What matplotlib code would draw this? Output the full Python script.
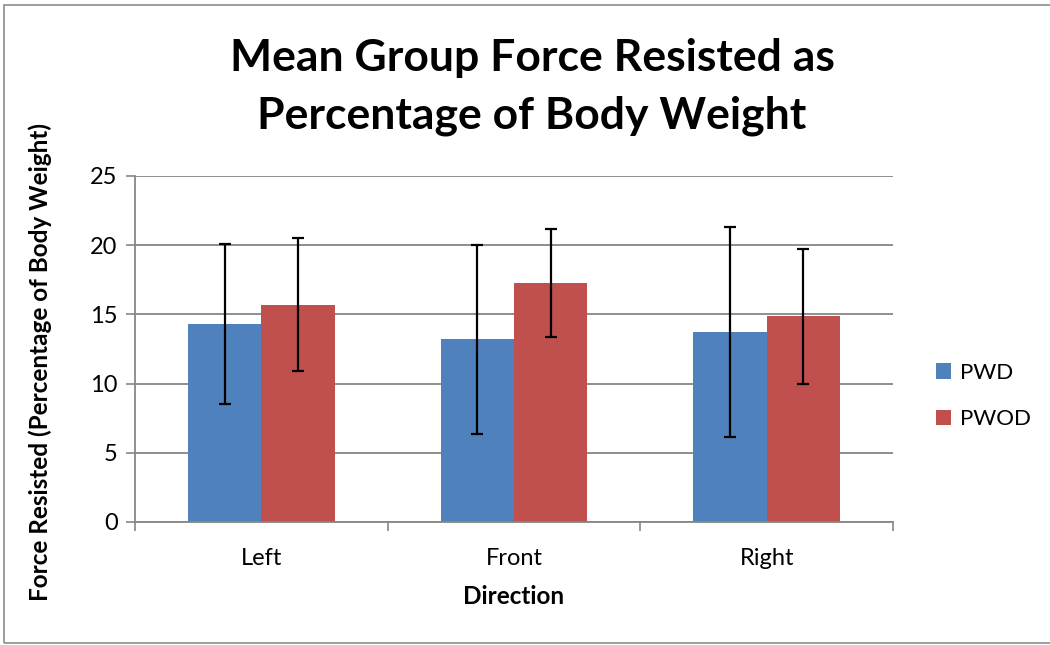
import matplotlib
matplotlib.use("Agg")
import matplotlib.pyplot as plt
import numpy as np
from matplotlib.patches import Rectangle

categories = ["Left", "Front", "Right"]
series_names = ["PWD", "PWOD"]
pwd_mean = [14.3, 13.2, 13.75]
pwd_err = [5.8, 6.82, 7.6]
pwod_mean = [15.7, 17.26, 14.85]
pwod_err = [4.82, 3.89, 4.87]
y_ticks = [0, 5, 10, 15, 20, 25]

blue = "#4F81BD"
red = "#C0504D"
grid_c = "#868686"
font = "Lato"

fig = plt.figure(figsize=(10.5, 6.45), dpi=100)
ax = fig.add_axes([135/1050, 1-522/645, (893-135)/1050, (522-176)/645])

x = np.arange(len(categories))
w = 0.29
ekw = dict(ecolor="black", elinewidth=1.6, capsize=4.5, capthick=1.6)
ax.bar(x - w/2, pwd_mean, w, color=blue, label=series_names[0], zorder=2,
       yerr=pwd_err, error_kw=ekw)
ax.bar(x + w/2, pwod_mean, w, color=red, label=series_names[1], zorder=2,
       yerr=pwod_err, error_kw=ekw)

ax.set_xlim(-0.5, len(categories) - 0.5)
ax.set_ylim(0, 25)
ax.set_yticks(y_ticks)
ax.set_yticklabels([str(t) for t in y_ticks], fontsize=17, family=font)
ax.set_xticks(np.arange(len(categories) + 1) - 0.5)
ax.set_xticklabels([])
ax.set_xticks(x, minor=True)
ax.set_xticklabels(categories, minor=True, fontsize=17, family=font)
ax.tick_params(axis="x", which="minor", length=0, pad=19)
ax.tick_params(axis="x", which="major", length=6.5, width=1.2, color=grid_c, direction="out")
ax.tick_params(axis="y", length=6.5, width=1.2, color=grid_c, direction="out", pad=6)
ax.yaxis.grid(True, color=grid_c, linewidth=1.3, zorder=0)
ax.set_axisbelow(True)
for s in ["top", "right"]:
    ax.spines[s].set_visible(False)
for s in ["left", "bottom"]:
    ax.spines[s].set_color(grid_c)
    ax.spines[s].set_linewidth(1.3)

fig.text(514/1050, 1-597/645, "Direction", ha="center", va="center",
         fontsize=17.5, fontweight="bold", family=font)
fig.text(40/1050, 1-362/645, "Force Resisted (Percentage of Body Weight)", rotation=90,
         ha="center", va="center", fontsize=17.5, fontweight="bold", family=font)

fig.text(532/1050, 1-87/645, "Mean Group Force Resisted as\nPercentage of Body Weight",
         ha="center", va="center", fontsize=32, fontweight="bold", family=font,
         linespacing=1.5)

leg = fig.legend(loc="center left", bbox_to_anchor=(916/1050, 1-396/645), frameon=False,
                 prop={"family": font, "size": 16}, handlelength=0.68, handleheight=0.68,
                 labelspacing=1.18, handletextpad=0.4)

fig.patches.append(Rectangle((4/1050, 2/645), 1.1, 638/645, transform=fig.transFigure,
                             fill=False, edgecolor="#8c8c8c", linewidth=1.2, zorder=10))

fig.savefig("out.png", dpi=100)
